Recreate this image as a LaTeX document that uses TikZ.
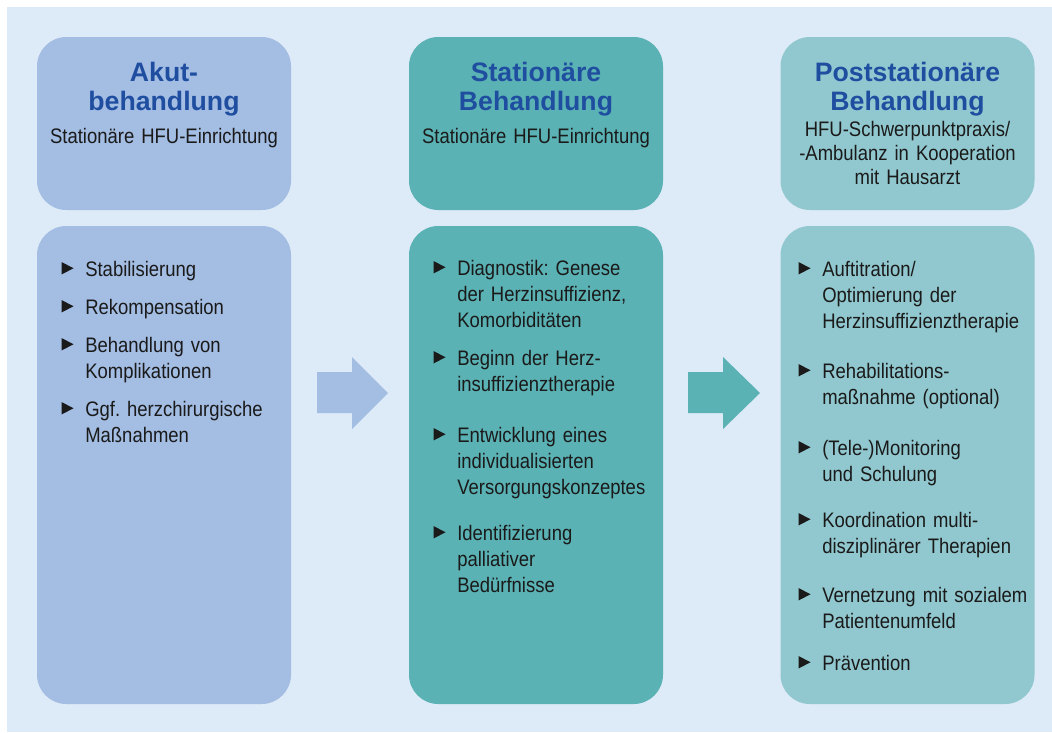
\documentclass[tikz,border=0pt]{standalone}
\usepackage{fontspec}
\setmainfont{Liberation Sans}
\newfontfamily\condfont{Liberation Sans}[FakeStretch=0.88]
\frenchspacing

\definecolor{bgblue}{HTML}{DDEAF7}
\definecolor{akut}{HTML}{A3BDE3}
\definecolor{stat}{HTML}{5BB2B4}
\definecolor{post}{HTML}{91C8CF}
\definecolor{titleblue}{HTML}{1F4EA0}
\definecolor{darktext}{HTML}{1A1A1A}

\tikzset{
  head/.style={rounded corners=22pt, inner sep=0, minimum width=190.5pt, minimum height=129.75pt},
  body/.style={head, minimum height=358.5pt},
  title/.style={anchor=base, align=center, text width=185pt, inner sep=0, text=titleblue,
    font=\fontsize{20}{21.75}\selectfont\bfseries},
  sub/.style={anchor=base, align=center, text width=185pt, inner sep=0, text=darktext,
    font=\condfont\fontsize{15.75}{18}\selectfont},
  item/.style={anchor=base west, align=left, text width=165pt, inner sep=0, text=darktext,
    font=\condfont\fontsize{15.75}{19.5}\selectfont},
}

\newcommand{\itm}[4]{%
  \node[item] (#3) at (#1,#2) {#4};
  \fill[darktext] (#3.base west) ++(-23.5,-1.5) -- ++(0,-12.5) -- ++(12,6.25) -- cycle;
}

\begin{document}
\begin{tikzpicture}[x=0.75pt, y=-0.75pt]
    \useasboundingbox (0,0) rectangle (1052,732);
    \fill[bgblue] (7,7) rectangle (1052,732);

    \node[head, fill=akut] (h1) at (164,123.5) {};
    \node[head, fill=stat] (h2) at (536,123.5) {};
    \node[head, fill=post] (h3) at (907.5,123.5) {};
    \node[body, fill=akut] (b1) at (164,465) {};
    \node[body, fill=stat] (b2) at (536,465) {};
    \node[body, fill=post] (b3) at (907.5,465) {};

    \fill[akut] (317,372) -- (352,372) -- (352,357) -- (388,393) -- (352,429) -- (352,413) -- (317,413) -- cycle;
    \fill[stat] (688,372) -- (723,372) -- (723,357) -- (760,393) -- (723,429) -- (723,413) -- (688,413) -- cycle;

    \node[title] (t1) at (164,81) {Akut-\\behandlung};
    \node[title] (t2) at (536,81) {Stationäre\\Behandlung};
    \node[title] (t3) at (907.5,81) {Poststationäre\\Behandlung};
    \node[sub] (u1) at (164,143) {Stationäre HFU-Einrichtung};
    \node[sub] (u2) at (536,143) {Stationäre HFU-Einrichtung};
    \node[sub] (u3) at (907.5,136) {HFU-Schwerpunktpraxis/\\-Ambulanz in Kooperation\\mit Hausarzt};

    \itm{85}{276}{a1}{Stabilisierung}
    \itm{85}{314}{a2}{Rekompensation}
    \itm{85}{352}{a3}{Behandlung von\\Komplikationen}
    \itm{85}{416}{a4}{Ggf. herzchirurgische\\Maßnahmen}

    \itm{457}{275}{s1}{Diagnostik: Genese\\der Herzinsuffizienz,\\Komorbiditäten}
    \itm{457}{365}{s2}{Beginn der Herz-\\insuffizienztherapie}
    \itm{457}{442}{s3}{Entwicklung eines\\individualisierten\\Versorgungskonzeptes}
    \itm{457}{540}{s4}{Identifizierung\\palliativer\\Bedürfnisse}

    \itm{822}{276}{p1}{Auftitration/\\Optimierung der\\Herzinsuffizienztherapie}
    \itm{822}{378}{p2}{Rehabilitations-\\maßnahme (optional)}
    \itm{822}{455}{p3}{(Tele-)Monitoring\\und Schulung}
    \itm{822}{527}{p4}{Koordination multi-\\disziplinärer Therapien}
    \itm{822}{602}{p5}{Vernetzung mit sozialem\\Patientenumfeld}
    \itm{822}{670}{p6}{Prävention}
\end{tikzpicture}
\end{document}
